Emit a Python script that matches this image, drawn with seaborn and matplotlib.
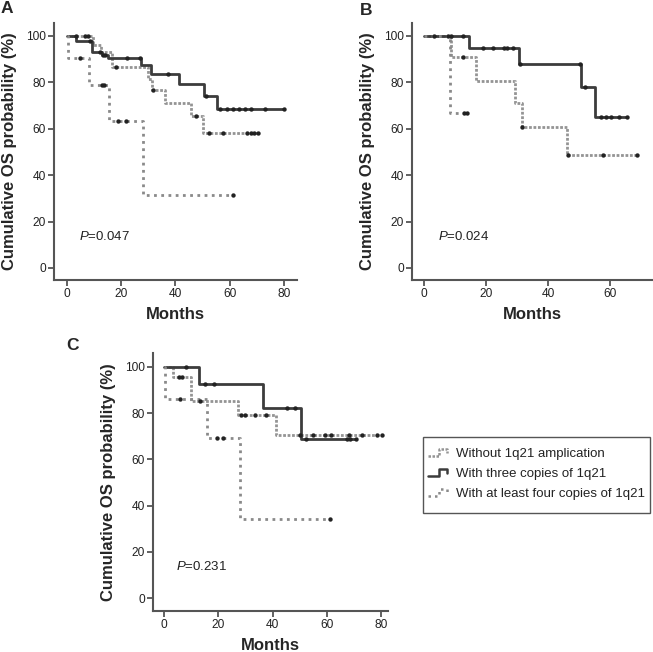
import numpy as np
import matplotlib
matplotlib.use("Agg")
import matplotlib.pyplot as plt
import seaborn as sns
from matplotlib.legend_handler import HandlerBase
from matplotlib.lines import Line2D
from matplotlib.patches import Rectangle

# --- data (months, cumulative OS %) ---
# panel A
a_wo_t = [0, 9.5, 12.5, 16.5, 30.0, 31.5, 36.0, 45.6, 50.3]
a_wo_s = [100, 96, 93, 86.8, 81.5, 76.7, 71.3, 65.5, 58]
a_wo_end = 70.6
a_wo_cens = [3.5, 6.8, 7.8, 18.2, 31.8, 47.5, 52.5, 57.4, 66.3, 67.8, 69.0, 70.5]

a_th_t = [0, 3.3, 9.3, 12.8, 15.2, 27.2, 31.0, 41.5, 50.6, 55.5]
a_th_s = [100, 97.8, 93, 91.7, 90.3, 87.3, 83.6, 79.5, 74.3, 68.4]
a_th_end = 80.0
a_th_cens = [8.5, 12.0, 13.2, 14.2, 22.0, 26.9, 37.4, 51.3, 56.5, 58.9, 61.4, 63.6, 65.7, 68.1, 73.1, 80.0]

a_fo_t = [0, 0.3, 8.2, 15.6, 27.9]
a_fo_s = [100, 90.4, 78.9, 63.2, 31.5]
a_fo_end = 61.1
a_fo_cens = [4.8, 12.8, 13.7, 18.9, 21.8, 61.1]

# panel B
b_wo_t = [0, 8.6, 16.6, 29.4, 31.5, 46.1]
b_wo_s = [100, 90.8, 80.7, 71, 60.8, 48.6]
b_wo_end = 68.6
b_wo_cens = [12.7, 31.7, 46.6, 57.6, 68.6]

b_th_t = [0, 14.5, 30.6, 50.6, 55.3]
b_th_s = [100, 94.7, 87.9, 78, 64.9]
b_th_end = 65.4
b_th_cens = [3.2, 7.8, 8.6, 12.7, 18.9, 22.4, 25.9, 26.9, 28.8, 31.0, 50.4, 51.9,
             57.1, 58.7, 60.3, 62.9, 65.4]

b_fo_t = [0, 8.3]
b_fo_s = [100, 66.7]
b_fo_end = 13.8
b_fo_cens = [13.0, 13.7]

# panel C
c_wo_t = [0, 3.4, 10.0, 27.2, 41.4]
c_wo_s = [100, 95.5, 85.2, 79.2, 70.6]
c_wo_end = 80.3
c_wo_cens = [5.4, 6.7, 13.2, 28.5, 29.8, 33.4, 37.7, 50.2, 54.9, 59.2, 61.4, 68.1, 73.0, 78.4, 80.3]

c_th_t = [0, 13.0, 36.3, 50.4]
c_th_s = [100, 92.5, 82.4, 68.8]
c_th_end = 70.8
c_th_cens = [8.3, 15.1, 18.5, 45.3, 48.2, 52.4, 67.2, 68.4, 70.6]

c_fo_t = [0, 0.3, 15.7, 27.9]
c_fo_s = [100, 86.1, 69.1, 34.2]
c_fo_end = 61.0
c_fo_cens = [5.9, 19.4, 21.6, 61.0]

p_values = ["0.047", "0.024", "0.231"]
legend_labels = ["Without 1q21 amplication", "With three copies of 1q21",
                 "With at least four copies of 1q21"]
x_ticks_ac = [0, 20, 40, 60, 80]
x_ticks_b = [0, 20, 40, 60]
y_ticks = [0, 20, 40, 60, 80, 100]

sns.set_style("ticks")
plt.rcParams["font.family"] = ["Liberation Sans", "DejaVu Sans"]
plt.rcParams["mathtext.fontset"] = "custom"
plt.rcParams["mathtext.it"] = "Liberation Sans:italic"
plt.rcParams["mathtext.rm"] = "Liberation Sans"

styles = {
    "wo": dict(color="#949494", linestyle=(0, (1, 0.6)), linewidth=2.0),
    "th": dict(color="#3c3c3c", linestyle="-", linewidth=2.0),
    "fo": dict(color="#8a8a8a", linestyle=(0, (1, 1.6)), linewidth=2.0),
}


def km(ax, t, s, end, cens, key):
    xs = list(t) + [end]
    ys = list(s) + [s[-1]]
    sns.lineplot(x=xs, y=ys, ax=ax, drawstyle="steps-post", sort=False, **styles[key])
    line = ax.lines[-1]
    idx = np.searchsorted(t, cens, side="right") - 1
    cy = [s[i] for i in idx]
    sns.scatterplot(x=cens, y=cy, ax=ax, color="#222222", s=10, linewidth=0,
                    marker="o", zorder=4)
    return line


def style_ax(ax, xlim, ylim, xticks, pval):
    ax.set_xlim(*xlim)
    ax.set_ylim(*ylim)
    ax.set_xticks(xticks)
    ax.set_yticks(y_ticks)
    sns.despine(ax=ax)
    for sp in ["left", "bottom"]:
        ax.spines[sp].set_linewidth(1.5)
        ax.spines[sp].set_color("#555555")
    ax.tick_params(direction="out", length=4, width=1.3, color="#555555",
                   labelsize=8.6, labelcolor="#222222", pad=2)
    ax.set_xlabel("Months", fontsize=12, fontweight="bold", labelpad=5)
    ax.set_ylabel("Cumulative OS probability (%)", fontsize=12, fontweight="bold", labelpad=6)
    ax.text(4.4, 13.6, r"$\mathit{P}$=" + pval, fontsize=9.5, va="center", ha="left",
            color="#222222")


W, H = 653, 652
fig = plt.figure(figsize=(W / 100, H / 100), dpi=100)

axA = fig.add_axes([54 / W, 1 - 280 / H, 243 / W, 257 / H])
km(axA, a_wo_t, a_wo_s, a_wo_end, a_wo_cens, "wo")
km(axA, a_th_t, a_th_s, a_th_end, a_th_cens, "th")
km(axA, a_fo_t, a_fo_s, a_fo_end, a_fo_cens, "fo")
style_ax(axA, (-4.8, 84.9), (-5.2, 105.6), x_ticks_ac, p_values[0])

axB = fig.add_axes([412 / W, 1 - 280 / H, 241 / W, 257 / H])
km(axB, b_wo_t, b_wo_s, b_wo_end, b_wo_cens, "wo")
km(axB, b_th_t, b_th_s, b_th_end, b_th_cens, "th")
km(axB, b_fo_t, b_fo_s, b_fo_end, b_fo_cens, "fo")
style_ax(axB, (-3.9, 73.9), (-5.2, 105.6), x_ticks_b, p_values[1])

axC = fig.add_axes([153 / W, 1 - 611 / H, 235 / W, 258 / H])
h1 = km(axC, c_wo_t, c_wo_s, c_wo_end, c_wo_cens, "wo")
h2 = km(axC, c_th_t, c_th_s, c_th_end, c_th_cens, "th")
h3 = km(axC, c_fo_t, c_fo_s, c_fo_end, c_fo_cens, "fo")
style_ax(axC, (-4.0, 82.4), (-5.6, 106.0), x_ticks_ac, p_values[2])


class StepHandler(HandlerBase):
    # small step-shaped legend key, like the original KM legend icons
    def create_artists(self, legend, orig_handle, xdescent, ydescent, width, height,
                       fontsize, trans):
        xs = np.array([0.0, 0.5, 0.5, 0.88, 0.88]) * width - xdescent
        ys = np.array([0.1, 0.1, 0.85, 0.85, 0.45]) * height - ydescent
        ln = Line2D(xs, ys)
        ln.update_from(orig_handle)
        ln.set_linewidth(1.8)
        ln.set_clip_on(False)
        ln.set_clip_box(None)
        ln.set_transform(trans)
        return [ln]


# legend frame drawn separately (the original box has small side padding)
fig.patches.append(Rectangle((423 / W, 1 - 513 / H), 227 / W, 76 / H,
                             transform=fig.transFigure, fill=False,
                             edgecolor="#555555", linewidth=1.0))
leg = fig.legend([h1, h2, h3], legend_labels, loc="center left",
                 bbox_to_anchor=(428 / W, 1 - 474 / H), borderaxespad=0,
                 fontsize=9.5, frameon=False, handlelength=1.65,
                 handletextpad=0.45, labelspacing=0.6, borderpad=0,
                 handler_map={Line2D: StepHandler()})
for t in leg.get_texts():
    t.set_color("#222222")

fig.text(0.5 / W, 1 - 1 / H, "A", fontsize=12.5, fontweight="bold", va="top", ha="left")
fig.text(360 / W, 1 - 3 / H, "B", fontsize=12.5, fontweight="bold", va="top", ha="left")
fig.text(66 / W, 1 - 338 / H, "C", fontsize=12.5, fontweight="bold", va="top", ha="left")

fig.savefig("out.png", dpi=100)
